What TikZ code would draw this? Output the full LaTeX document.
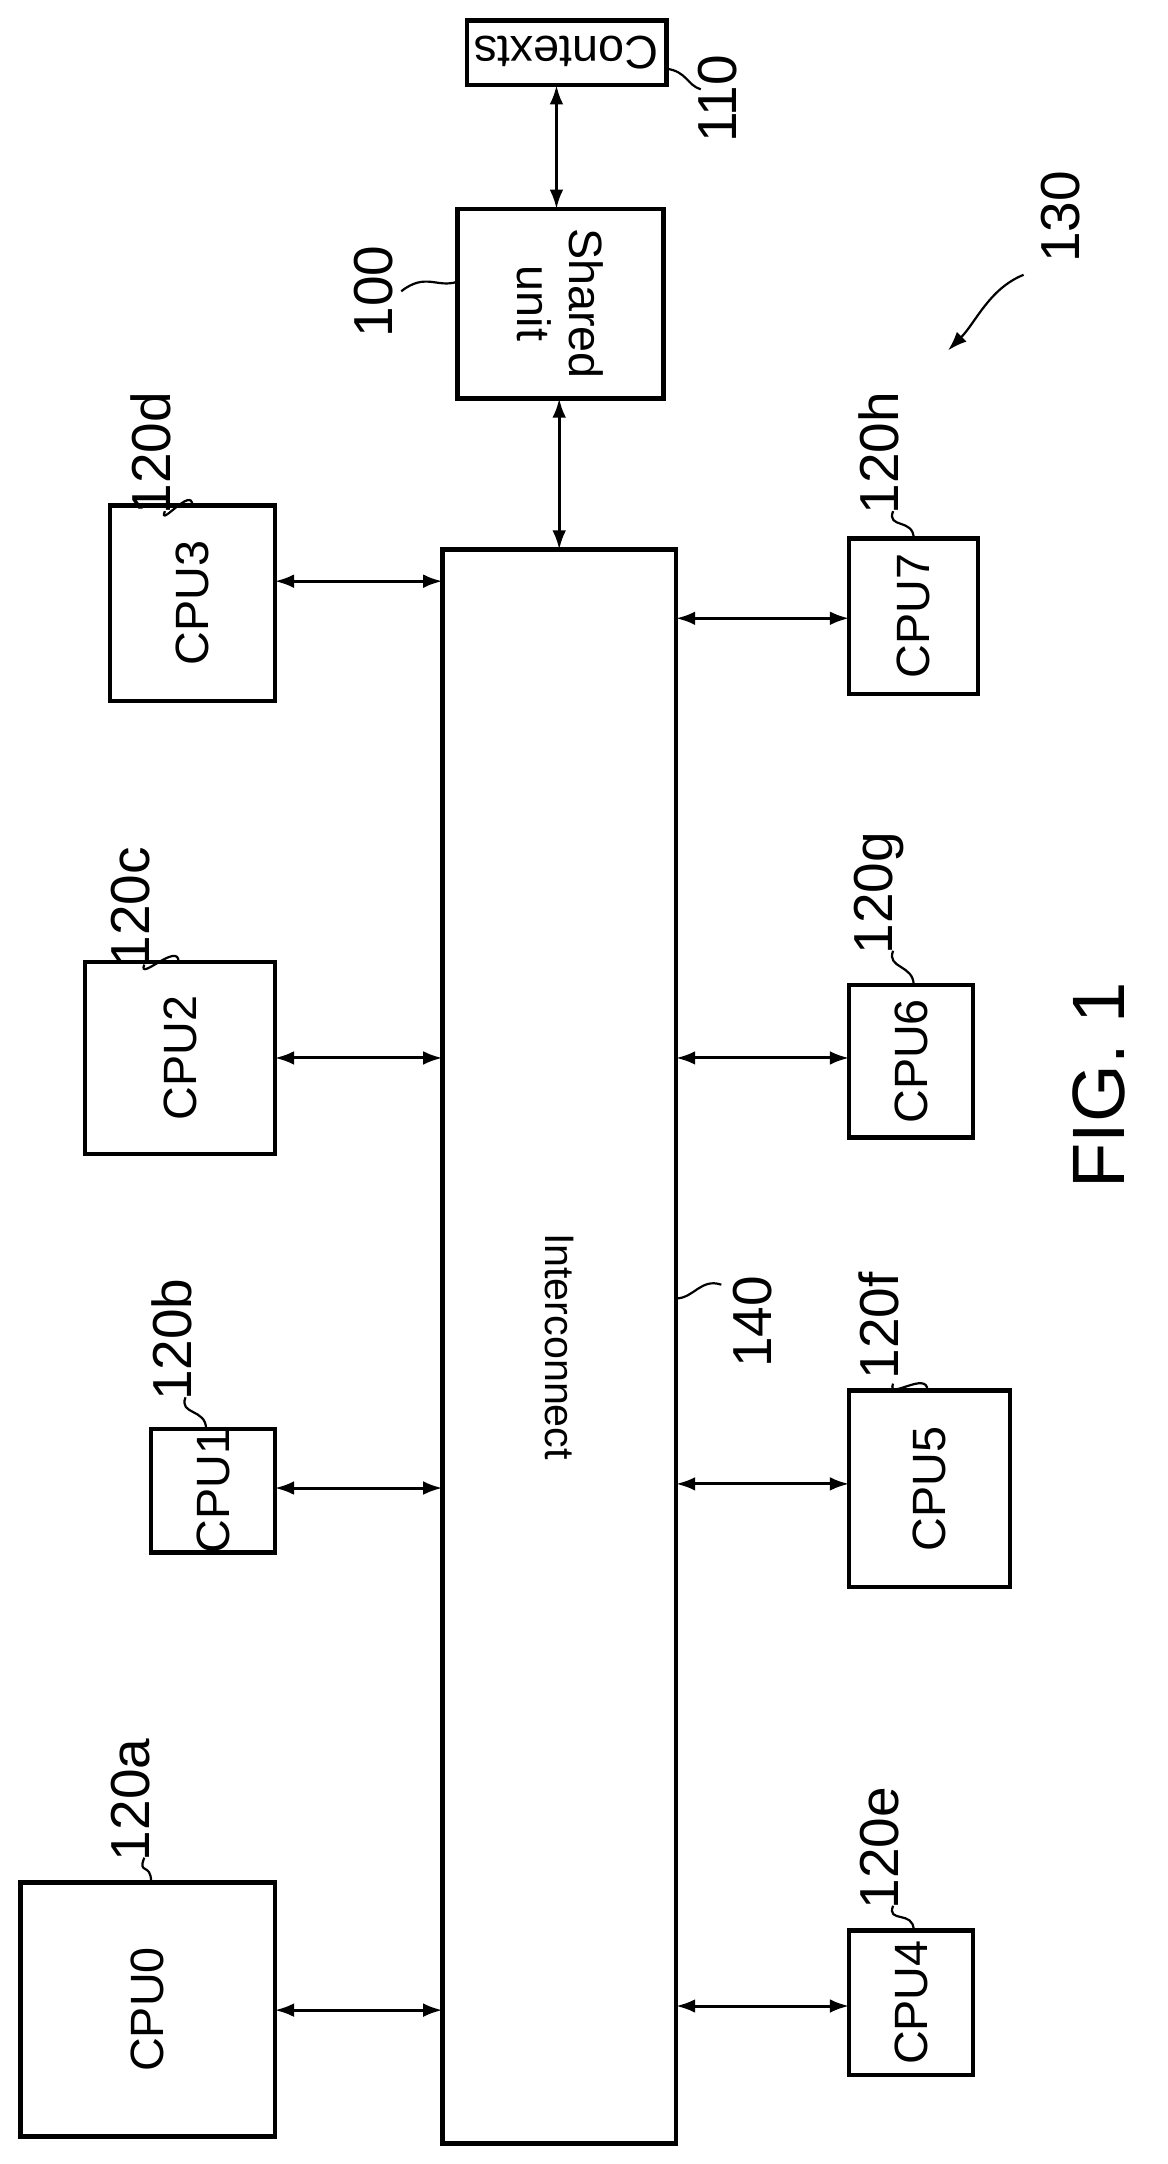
\documentclass[tikz,border=0pt]{standalone}
\usepackage{fontspec}
\setmainfont{Liberation Sans}
\usetikzlibrary{arrows.meta}
\begin{document}
\begin{tikzpicture}[x=0.5pt,y=-0.5pt,
  box/.style={draw,line width=1.6pt,inner sep=0},
  con/.style={line width=1.1pt,{Latex[length=7pt,width=5pt]}-{Latex[length=7pt,width=5pt]}},
  lbl/.style={rotate=90,font=\fontsize{20}{20}\selectfont},
  cpu/.style={rotate=90,font=\fontsize{17}{17}\selectfont},
  lead/.style={line width=0.8pt}]
\useasboundingbox (0,0) rectangle (850,1575);
% boxes
\draw[box] (340,15) rectangle (485,62) coordinate (ctxC);
\node[rotate=180,font=\fontsize{17}{17}\selectfont] (ctx) at (412,38) {Contexts};
\draw[box] (333,152) rectangle (483,290);
\node[rotate=-90,align=center,font=\fontsize{17}{19}\selectfont] (su) at (408,221) {Shared\\unit};
\draw[box] (322,400) rectangle (492,1560);
\node[rotate=-90,font=\fontsize{15}{15}\selectfont] (ic) at (407,980) {Interconnect};
% CPUs
\foreach \n/\xa/\ya/\xb/\yb in {3/80/368/200/510, 2/62/700/200/840, 1/110/1040/200/1130, 0/15/1370/200/1555,
  7/618/392/712/505, 6/618/717/708/828, 5/618/1012/735/1155, 4/618/1405/708/1510}{
  \draw[box] (\xa,\ya) rectangle (\xb,\yb);
  \node[cpu] (cpu\n) at ({(\xa+\xb)/2},{(\ya+\yb)/2}) {CPU\n};
}
% connectors
\coordinate (a1) at (405,62); \coordinate (a2) at (405,152);
\draw[con] (a1) -- (a2);
\coordinate (b1) at (407,290); \coordinate (b2) at (407,400);
\draw[con] (b1) -- (b2);
\foreach \y in {423,770,1083,1463}{
  \coordinate (l1) at (200,\y); \coordinate (l2) at (322,\y);
  \draw[con] (l1) -- (l2);}
\foreach \y in {450,770,1080,1460}{
  \coordinate (r1) at (492,\y); \coordinate (r2) at (618,\y);
  \draw[con] (r1) -- (r2);}
% labels
\node[lbl] at (522,72) {110};
\draw[lead] (485,50) .. controls (500,52) and (500,62) .. (510,65);
\node[lbl] at (272,212) {100};
\draw[lead] (333,205) .. controls (318,210) and (310,198) .. (292,212);
\foreach \t/\x/\y/\bx/\by in {120d/110/330/140/368, 120c/95/660/130/700, 120b/125/975/150/1040, 120a/95/1310/110/1370,
  120h/640/330/665/392, 120g/640/650/665/717, 120f/640/965/675/1012, 120e/640/1345/665/1405}{
  \node[lbl] at (\x,\y) {\t};
  \draw[lead] (\bx,\by) .. controls (\bx,{\by-15}) and ({\x+5},{\y+55}) .. ({\x+10},{\y+42});
}
\node[lbl] at (548,962) {140};
\draw[lead] (492,945) .. controls (505,945) and (510,930) .. (525,935);
\node[lbl] at (772,158) {130};
\draw[lead,-{Latex[length=7pt,width=5pt]}] (745,200) .. controls (720,210) and (710,235) .. (690,255);
\node[rotate=90,font=\fontsize{27}{27}\selectfont] at (800,790) {FIG. 1};
\end{tikzpicture}
\end{document}
